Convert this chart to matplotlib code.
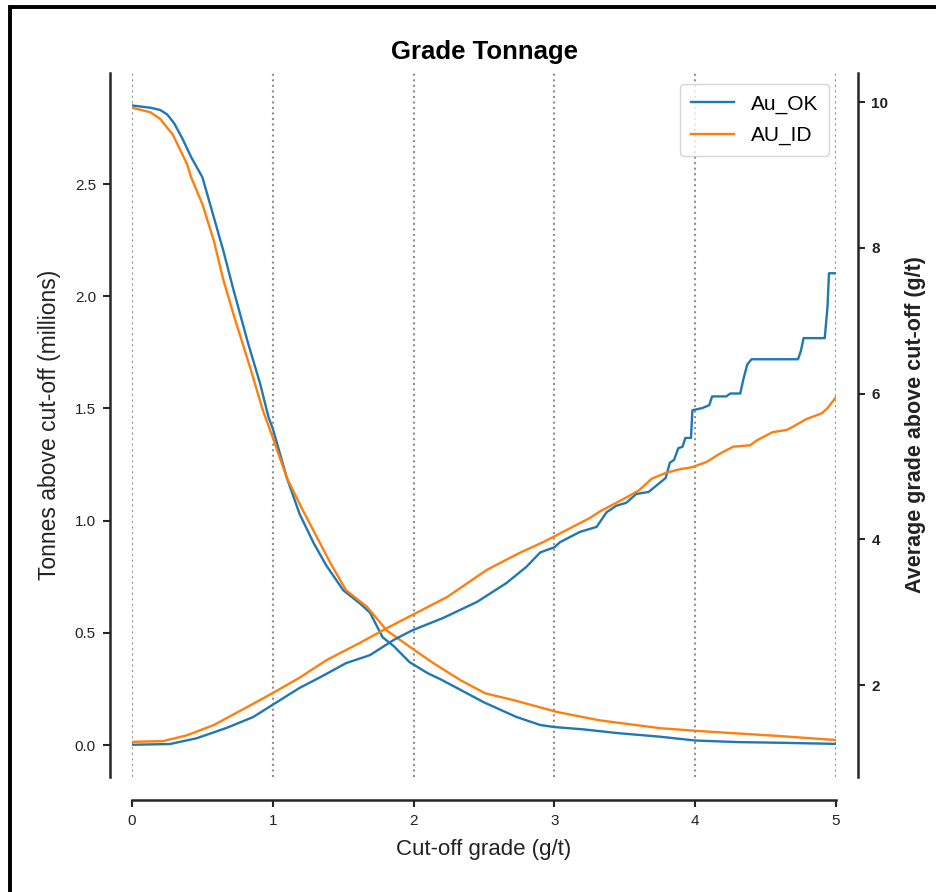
import matplotlib
matplotlib.use("Agg")
import matplotlib.pyplot as plt
from matplotlib.patches import Rectangle

plt.rcParams['font.family'] = ['Liberation Sans', 'DejaVu Sans']

# ---- data ----
ok_ton_x = [0.0, 0.13, 0.2, 0.25, 0.3, 0.36, 0.42, 0.5, 0.55, 0.6, 0.65, 0.72, 0.82, 0.91,
            0.97, 1.0, 1.1, 1.19, 1.29, 1.38, 1.5, 1.62, 1.69, 1.78, 1.86, 1.97, 2.1, 2.2,
            2.35, 2.5, 2.73, 2.9, 3.0, 3.2, 3.45, 3.75, 4.0, 4.3, 4.6, 5.0]
ok_ton_y = [2.85, 2.84, 2.83, 2.81, 2.77, 2.70, 2.62, 2.53, 2.42, 2.31, 2.20, 2.03, 1.80, 1.61,
            1.46, 1.41, 1.19, 1.03, 0.90, 0.80, 0.69, 0.63, 0.59, 0.48, 0.44, 0.37, 0.32, 0.29,
            0.24, 0.19, 0.125, 0.089, 0.08, 0.07, 0.053, 0.037, 0.02, 0.013, 0.01, 0.005]

id_ton_x = [0.0, 0.13, 0.2, 0.29, 0.39, 0.42, 0.5, 0.58, 0.65, 0.73, 0.84, 0.93, 1.0, 1.1,
            1.21, 1.31, 1.41, 1.52, 1.67, 1.81, 1.99, 2.14, 2.33, 2.51, 2.71, 3.02, 3.32,
            3.75, 4.03, 4.6, 5.0]
id_ton_y = [2.84, 2.82, 2.79, 2.72, 2.59, 2.53, 2.41, 2.25, 2.07, 1.90, 1.68, 1.49, 1.37, 1.19,
            1.05, 0.93, 0.81, 0.69, 0.615, 0.51, 0.43, 0.365, 0.29, 0.23, 0.20, 0.147, 0.11,
            0.075, 0.062, 0.04, 0.022]

ok_grd_x = [0.0, 0.27, 0.46, 0.67, 0.86, 1.0, 1.19, 1.34, 1.52, 1.69, 1.86, 1.99, 2.21, 2.45,
            2.66, 2.8, 2.9, 3.0, 3.04, 3.18, 3.30, 3.37, 3.44, 3.51, 3.58, 3.67, 3.72, 3.79,
            3.82, 3.85, 3.88, 3.91, 3.93, 3.97, 3.98, 4.05, 4.1, 4.12, 4.22, 4.25, 4.32, 4.34,
            4.37, 4.40, 4.73, 4.75, 4.77, 4.92, 4.94, 4.95, 5.0]
ok_grd_y = [1.18, 1.19, 1.27, 1.41, 1.56, 1.73, 1.96, 2.11, 2.30, 2.41, 2.62, 2.75, 2.92, 3.14,
            3.40, 3.62, 3.82, 3.89, 3.96, 4.10, 4.17, 4.37, 4.46, 4.50, 4.62, 4.65, 4.73, 4.84,
            5.05, 5.09, 5.25, 5.27, 5.39, 5.39, 5.77, 5.80, 5.84, 5.96, 5.96, 6.0, 6.0, 6.18,
            6.40, 6.47, 6.47, 6.58, 6.76, 6.76, 7.2, 7.65, 7.65]

id_grd_x = [0.0, 0.22, 0.39, 0.58, 0.82, 1.0, 1.19, 1.38, 1.62, 1.81, 1.99, 2.24, 2.52, 2.76,
            2.92, 3.04, 3.13, 3.25, 3.33, 3.46, 3.6, 3.69, 3.79, 3.89, 3.98, 4.08, 4.18, 4.27,
            4.39, 4.44, 4.55, 4.65, 4.69, 4.79, 4.86, 4.9, 4.94, 5.0]
id_grd_y = [1.22, 1.23, 1.31, 1.45, 1.70, 1.89, 2.10, 2.34, 2.58, 2.78, 2.96, 3.21, 3.58, 3.82,
            3.96, 4.08, 4.17, 4.29, 4.39, 4.52, 4.67, 4.83, 4.91, 4.96, 4.99, 5.06, 5.18, 5.27,
            5.29, 5.36, 5.47, 5.50, 5.54, 5.65, 5.70, 5.73, 5.80, 5.95]

series_labels = ['Au_OK', 'AU_ID']
x_ticks = [0, 1, 2, 3, 4, 5]
left_ticks = [0.0, 0.5, 1.0, 1.5, 2.0, 2.5]
right_ticks = [2, 4, 6, 8, 10]

blue = '#1f77b4'
orange = '#ff7f0e'
spine_c = '#262626'
lw = 1.7

fig = plt.figure(figsize=(9.36, 8.92), dpi=100)
ax = fig.add_axes([0.14103, 0.12892, 0.75214, 0.78924])
ax2 = ax.twinx()

ax.plot(ok_ton_x, ok_ton_y, color=blue, lw=lw, label=series_labels[0])
ax.plot(id_ton_x, id_ton_y, color=orange, lw=lw, label=series_labels[1])
l1, = ax2.plot(ok_grd_x, ok_grd_y, color=blue, lw=lw, label=series_labels[0])
l2, = ax2.plot(id_grd_x, id_grd_y, color=orange, lw=lw, label=series_labels[1])

ax.set_xlim(0, 5)
ax.set_ylim(-0.1426, 2.9947)
ax2.set_ylim(0.7376, 10.398)

ax.set_xticks(x_ticks)
ax.set_xticklabels([str(v) for v in x_ticks])
ax.set_yticks(left_ticks)
ax.set_yticklabels(['%.1f' % v for v in left_ticks])
ax2.set_yticks(right_ticks)
ax2.set_yticklabels([str(v) for v in right_ticks])

ax.grid(axis='x', linestyle=':', color='#8f8f8f', lw=1.5)
ax.grid(axis='y', visible=False)
ax.set_axisbelow(True)
for gl in ax.get_xgridlines():
    gl.set_clip_on(False)

for s in ['top', 'right']:
    ax.spines[s].set_visible(False)
for s in ['top', 'left', 'bottom']:
    ax2.spines[s].set_visible(False)
ax.spines['left'].set_position(('outward', 16))
ax.spines['bottom'].set_position(('outward', 16.5))
ax2.spines['right'].set_position(('outward', 15.5))
for sp in [ax.spines['left'], ax.spines['bottom'], ax2.spines['right']]:
    sp.set_linewidth(1.8)
    sp.set_color(spine_c)

ax.tick_params(axis='both', direction='out', length=5, width=1.5, color=spine_c,
               labelsize=11, labelcolor='#222222', pad=5)
ax2.tick_params(axis='y', direction='out', length=5, width=1.5, color=spine_c,
                labelsize=11, labelcolor='#222222', pad=5)
for t in ax2.get_yticklabels():
    t.set_fontweight('bold')

ax.set_xlabel('Cut-off grade (g/t)', fontsize=16, color='#222222', labelpad=8)
ax.set_ylabel('Tonnes above cut-off (millions)', fontsize=16.5, color='#222222', labelpad=10)
ax2.set_ylabel('Average grade above cut-off (g/t)', fontsize=15.5, fontweight='bold',
               color='#222222', labelpad=12)
ax.set_title('Grade Tonnage', fontsize=18.5, fontweight='bold', pad=10)

leg = ax2.legend(handles=[l1, l2], labels=series_labels, loc='upper right',
                 bbox_to_anchor=(0.9901, 0.9844), borderaxespad=0,
                 fontsize=15, frameon=True, fancybox=True, framealpha=0.8,
                 edgecolor='#cccccc', handlelength=2.1, borderpad=0.5,
                 labelspacing=0.6)

fig.patches.append(Rectangle((9.5 / 936, -0.2), 1.5, 1.2 - 6.5 / 892,
                             transform=fig.transFigure, fill=False,
                             edgecolor='black', lw=2.8))

fig.savefig('out.png', dpi=100)
